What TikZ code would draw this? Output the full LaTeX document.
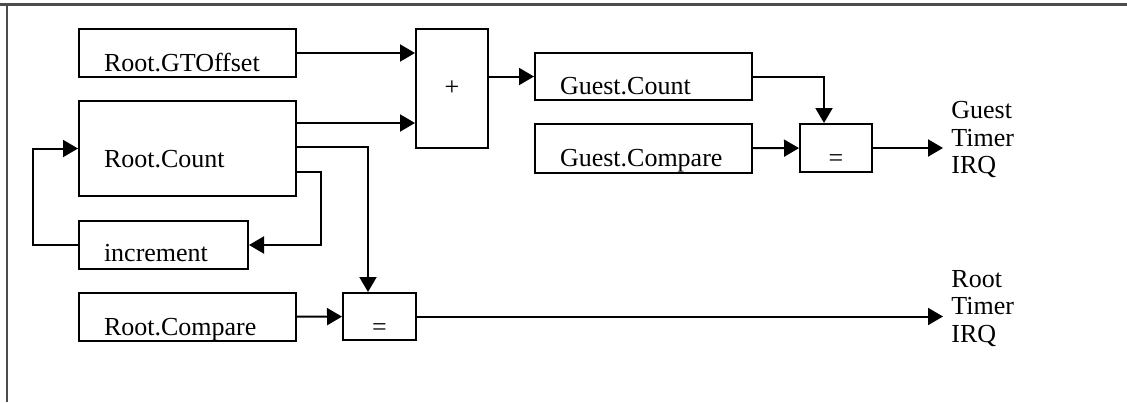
\documentclass[tikz,border=0pt]{standalone}
\usepackage{fontspec}
\setmainfont{Liberation Serif}
\usetikzlibrary{arrows.meta,calc}

\begin{document}
\begin{tikzpicture}[x=0.5pt, y=-0.5pt,
	every node/.style={font=\fontsize{13pt}{13.75pt}\selectfont},
	reg/.style={draw, line width=1pt, anchor=north west, inner sep=0pt, inner xsep=12.5pt, align=left},
	op/.style={draw, line width=1pt, anchor=north west, inner sep=0pt, align=center},
	arr/.style={line width=1pt, -{Triangle[length=7.5pt,width=8.5pt]}},
	wire/.style={line width=1pt}]
	\useasboundingbox (0,0) rectangle (1127,402);

	% Frame
	\draw[line width=1.4pt, gray!60!black] (0,4.5) -- (1127,4.5);
	\draw[line width=1pt, gray!60!black] (7,4.5) -- (7,402);

	% Registers
	\node[reg, text width=83.5pt, text height=21pt, text depth=3pt] (gto) at (78,28) {Root.GTOffset};
	\node[reg, text width=83.5pt, text height=33pt, text depth=14.5pt] (cnt) at (78,100) {Root.Count};
	\node[reg, text width=59.5pt, text height=20pt, text depth=4pt] (inc) at (78,220) {increment};
	\node[reg, text width=83.5pt, text height=21pt, text depth=3pt] (rcmp) at (78,292) {Root.Compare};
	\node[reg, text width=83.5pt, text height=20.5pt, text depth=3pt] (gcnt) at (534,52) {Guest.Count};
	\node[reg, text width=83.5pt, text height=21pt, text depth=3.5pt] (gcmp) at (534,123) {Guest.Compare};

	% Operators
	\node[op, minimum width=36pt, minimum height=59.5pt] (plus) at (415,28) {+};
	\node[op, text width=36pt, text height=21pt, text depth=3pt] (geq) at (799,123) {=};
	\node[op, text width=36.5pt, text height=21pt, text depth=2.5pt] (req) at (342,292) {=};

	% Outputs
	\node[anchor=north west, inner sep=0pt, align=left] (girq) at (951,101) {Guest\\Timer\\IRQ};
	\node[anchor=north west, inner sep=0pt, align=left] (rirq) at (951,270) {Root\\Timer\\IRQ};

	% Guest count
	\draw[arr] (gto) -- (gto -| plus.west);
	\draw[arr] ($(cnt.north east)+(0,23)$) coordinate (c1) -- (c1 -| plus.west);
	\draw[arr] (plus.east |- gcnt.west) -- (gcnt.west);

	% Guest timer compare
	\draw[arr] (gcnt.east) -| ($(geq.north)+(-12,0)$);
	\draw[arr] (gcmp) -- (geq);
	\draw[arr, shorten >=4pt] (geq.east) -- (geq.east -| girq.west);

	% Increment loop
	\draw[arr] ($(cnt.north east)+(0,72)$) -- ++(24,0) |- (inc.east);
	\draw[arr] (inc.west) -- ++(-45,0) |- (cnt.west);

	% Root timer compare
	\draw[arr] ($(cnt.north east)+(0,47)$) -| ($(req.north)+(-11.5,0)$);
	\draw[arr] (rcmp) -- (req);
	\draw[arr, shorten >=4pt] (req.east) -- (req.east -| rirq.west);
\end{tikzpicture}
\end{document}
